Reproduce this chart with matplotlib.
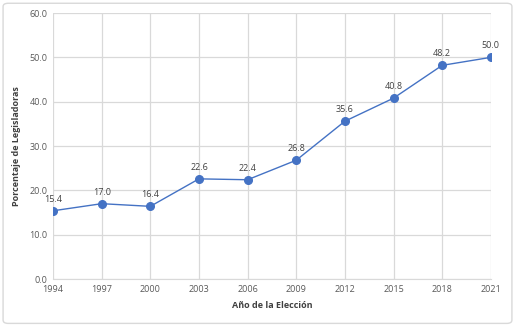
import matplotlib.pyplot as plt
from matplotlib.patches import FancyBboxPatch

# data
years = [1994, 1997, 2000, 2003, 2006, 2009, 2012, 2015, 2018, 2021]
pct = [15.4, 17.0, 16.4, 22.6, 22.4, 26.8, 35.6, 40.8, 48.2, 50.0]
yticks = [0, 10, 20, 30, 40, 50, 60]

plt.rcParams['font.family'] = ['Open Sans', 'DejaVu Sans']
txt = '#595959'
grid = '#d9d9d9'
blue = '#4472C4'

fig = plt.figure(figsize=(5.15, 3.26), dpi=100)
# chart frame
fig.patches.append(FancyBboxPatch((0.006, 0.008), 0.988, 0.982, boxstyle='round,pad=0,rounding_size=0.01',
                                  transform=fig.transFigure, fc='none', ec='#d9d9d9', lw=1, zorder=-10))
ax = fig.add_axes([0.103, 0.144, 0.850, 0.816])
ax.set_facecolor('none')

ax.plot(years, pct, color=blue, lw=1.0, marker='o', ms=5.5, zorder=3)
for x, y in zip(years, pct):
    ax.annotate(f'{y:.1f}', (x, y), xytext=(0, 5), textcoords='offset points',
                ha='center', va='bottom', fontsize=6.5, color='#404040')

ax.set_xlim(1994, 2021)
ax.set_ylim(0, 60)
ax.set_xticks(years)
ax.set_yticks(yticks)
ax.set_yticklabels([f'{v:.1f}' for v in yticks])
ax.grid(True, color=grid, lw=0.9)
ax.set_axisbelow(True)
for s in ['top', 'right', 'left']:
    ax.spines[s].set_visible(False)
ax.spines['bottom'].set_color(grid)
ax.tick_params(length=0, labelsize=6.5, colors=txt, pad=4)

ax.set_xlabel('Año de la Elección', fontsize=6.5, fontweight='bold', color='#404040', labelpad=5)
ax.set_ylabel('Porcentaje de Legisladoras', fontsize=6.5, fontweight='bold', color='#404040', labelpad=6)

plt.savefig('out.png', dpi=100)
